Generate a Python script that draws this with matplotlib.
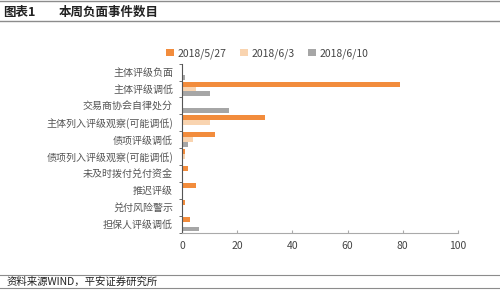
import matplotlib
matplotlib.use("Agg")
import matplotlib.pyplot as plt
import numpy as np
from matplotlib.lines import Line2D

plt.rcParams["font.family"] = ["Noto Sans CJK SC", "DejaVu Sans"]

categories = ["主体评级负面", "主体评级调低", "交易商协会自律处分",
              "主体列入评级观察(可能调低)", "债项评级调低",
              "债项列入评级观察(可能调低)", "未及时拨付兑付资金",
              "推迟评级", "兑付风险警示", "担保人评级调低"]
series_names = ["2018/5/27", "2018/6/3", "2018/6/10"]
v_0527 = [0, 79, 0, 30, 12, 1, 2, 5, 1, 3]
v_0603 = [0, 5, 0, 10, 4, 1, 0, 0, 0, 0]
v_0610 = [1, 10, 17, 0, 2, 0, 0, 0, 0, 6]
colors = ["#F28C3C", "#F9D4B0", "#A6A6A6"]

fig = plt.figure(figsize=(5.0, 2.91), dpi=100)

# header / footer rules
for y, lw in [(0.997, 1.0), (0.928, 1.0), (0.055, 0.8), (0.010, 0.8)]:
    fig.add_artist(Line2D([0, 1], [y, y], color="#8c8c8c", lw=lw,
                          transform=fig.transFigure))
fig.text(0.006, 0.958, "图表1", fontsize=9, fontweight="bold",
         va="center", ha="left", color="#222222")
fig.text(0.118, 0.958, "本周负面事件数目", fontsize=9, fontweight="bold",
         va="center", ha="left", color="#222222")
fig.text(0.014, 0.033, "资料来源WIND，平安证券研究所", fontsize=7.5,
         style="italic", va="center", ha="left", color="#222222")

ax = fig.add_axes([0.364, 0.201, 0.552, 0.58])
y = np.arange(len(categories))
h = 0.29
for k, (vals, name, c) in enumerate(zip([v_0527, v_0603, v_0610],
                                        series_names, colors)):
    ax.barh(y + (k - 1) * h, vals, height=h, color=c, label=name)

ax.set_ylim(len(categories) - 0.5, -0.5)
ax.set_xlim(0, 100)
ax.set_xticks(np.arange(0, 101, 20))
ax.set_yticks(y)
ax.set_yticklabels(categories, fontsize=7.2, color="#555555")
ax.tick_params(axis="y", length=0, pad=6.5)
ax.set_yticks(np.arange(-0.5, len(categories), 1), minor=True)
ax.tick_params(axis="y", which="minor", length=2.5, color="#555555")
ax.tick_params(axis="x", direction="in", length=2.5, colors="#aaaaaa",
               labelcolor="#444444", labelsize=7.5, pad=6)
for s in ["top", "right"]:
    ax.spines[s].set_visible(False)
ax.spines["left"].set_color("#555555")
ax.spines["left"].set_linewidth(0.8)
ax.spines["bottom"].set_color("#aaaaaa")
ax.spines["bottom"].set_linewidth(0.8)

ax.legend(loc="lower center", bbox_to_anchor=(0.31, 1.0), ncol=3,
          frameon=False, fontsize=7.5, handlelength=0.7, handleheight=0.7,
          handletextpad=0.4, columnspacing=1.3, borderaxespad=0.1,
          labelcolor="#444444")

fig.savefig("out.png", dpi=100)
